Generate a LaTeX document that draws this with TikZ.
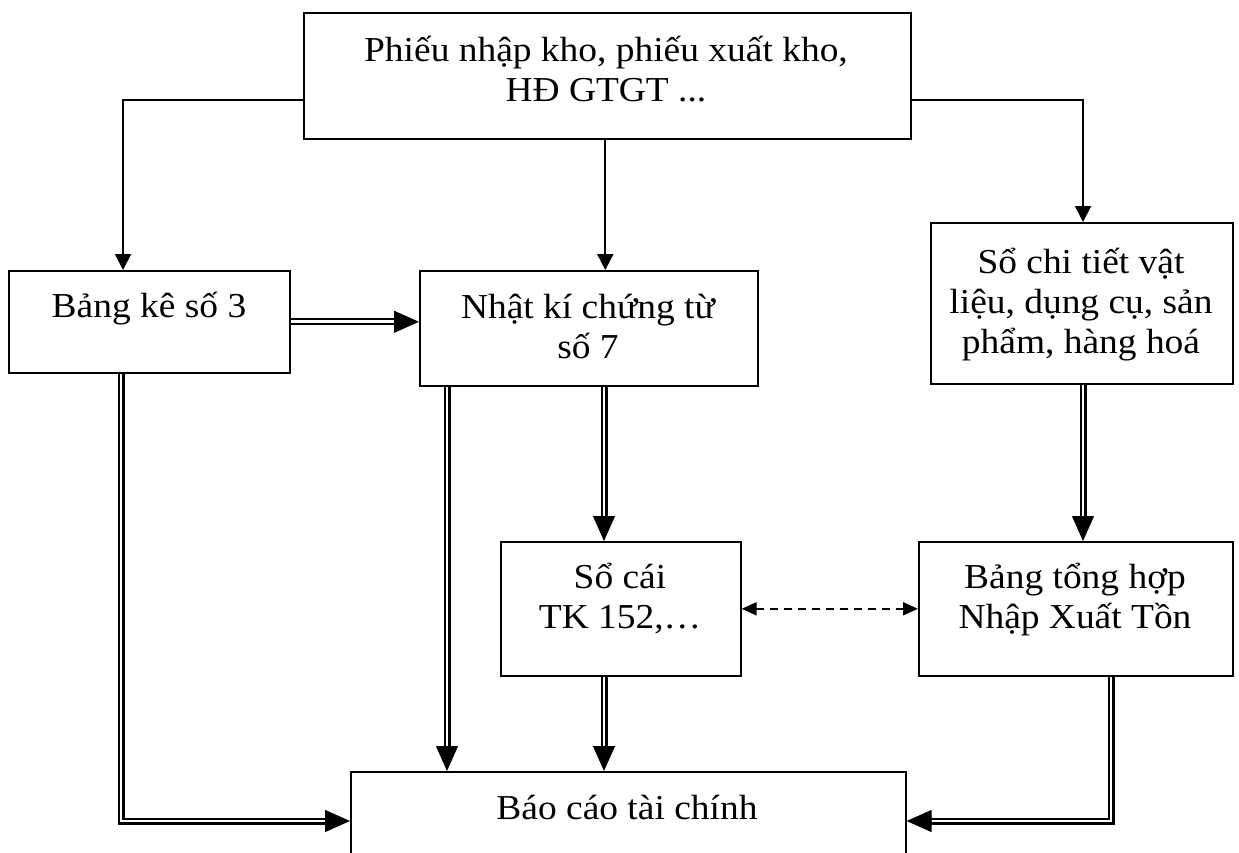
\documentclass[tikz,border=0pt]{standalone}
\usepackage{fontspec}
\setmainfont{Liberation Serif}[FakeStretch=1.07]
\usetikzlibrary{arrows.meta,calc}
\newcommand{\tallstrut}{\lineskiplimit=-100pt\relax\rule{0pt}{40pt}}
\tikzset{
  box/.style={draw, line width=1.6pt, inner sep=0pt, anchor=north west},
  txt/.style={inner sep=0pt, anchor=north, align=center,
    font=\fontsize{35}{40}\selectfont},
  sarrow/.style={line width=1.9pt, -{Triangle[length=16pt,width=16pt]}},
  dbl/.style={line width=2.1pt, double, double distance=2.8pt, shorten >=22pt},
  dtip/.style={line width=1pt, -{Triangle[length=25pt,width=22pt]}},
  dashar/.style={line width=1.9pt, dash pattern=on 8pt off 6pt,
    {Triangle[length=15pt,width=13pt]}-{Triangle[length=15pt,width=13pt]}}
}
\begin{document}
\begin{tikzpicture}[x=1pt,y=-1pt]
\useasboundingbox (0,0) rectangle (1239,852);
\clip (0,0) rectangle (1239,852);
\fill[white] (0,0) rectangle (1239,852);

% boxes
\node[box, minimum width=607pt, minimum height=126pt] (top) at (303,12) {};
\node[box, minimum width=281pt, minimum height=102pt] (bk) at (8,270) {};
\node[box, minimum width=338pt, minimum height=115pt] (nk) at (419,270) {};
\node[box, minimum width=302pt, minimum height=161pt] (sct) at (930,222) {};
\node[box, minimum width=240pt, minimum height=134pt] (sc) at (500,541) {};
\node[box, minimum width=314pt, minimum height=134pt] (bth) at (918,541) {};
\node[box, minimum width=555pt, minimum height=140pt] (bc) at (350,771) {};

% texts
\node[txt] (topt) at (606,21) {\tallstrut Phiếu nhập kho, phiếu xuất kho,\\HĐ GTGT ...};
\node[txt] (bkt) at (149,277) {\tallstrut Bảng kê số 3};
\node[txt] (nkt) at (588,278) {\tallstrut Nhật kí chứng từ\\số 7};
\node[txt] (sctt) at (1081,233) {\tallstrut Sổ chi tiết vật\\liệu, dụng cụ, sản\\phẩm, hàng hoá};
\node[txt] (sct2) at (620,548) {\tallstrut Sổ cái\\TK 152,…};
\node[txt] (btht) at (1075,548) {\tallstrut Bảng tổng hợp\\Nhập Xuất Tồn};
\node[txt] (bct) at (627,779) {\tallstrut Báo cáo tài chính};

% single arrows from top box
\draw[sarrow] ([yshift=-88pt]top.north west) -| ([xshift=115pt]bk.north west);
\draw[sarrow] ([yshift=-88pt]top.north east) -| ([xshift=153pt]sct.north west);
\draw[sarrow] ([xshift=-2pt]top.south) -- ([xshift=-2pt]top.south |- nk.north);

% double arrows
% bk -> nk
\draw[dbl] (bk.east) -- (nk.west |- bk.east);
\draw[dtip] ($(nk.west |- bk.east)+(-25,0)$) -- (nk.west |- bk.east);
% bk -> bc
\coordinate (bcL) at ([yshift=-50pt]bc.north west);
\draw[dbl] ([xshift=113pt]bk.south west) |- (bcL);
\draw[dtip] ($(bcL)+(-25,0)$) -- (bcL);
% nk -> bc
\coordinate (nkL) at ([xshift=28pt]nk.south west);
\draw[dbl] (nkL) -- (nkL |- bc.north);
\draw[dtip] ($(nkL |- bc.north)+(0,-25)$) -- (nkL |- bc.north);
% nk -> sc
\coordinate (scT) at ([xshift=104pt]sc.north west);
\draw[dbl] (scT |- nk.south) -- (scT);
\draw[dtip] ($(scT)+(0,-25)$) -- (scT);
% sc -> bc
\coordinate (scB) at ([xshift=104pt]sc.south west);
\draw[dbl] (scB) -- (scB |- bc.north);
\draw[dtip] ($(scB |- bc.north)+(0,-25)$) -- (scB |- bc.north);
% sct -> bth
\coordinate (bthT) at ([xshift=165pt]bth.north west);
\draw[dbl] (bthT |- sct.south) -- (bthT);
\draw[dtip] ($(bthT)+(0,-25)$) -- (bthT);
% bth -> bc
\coordinate (bcR) at ([yshift=-50pt]bc.north east);
\draw[dbl] ([xshift=193pt]bth.south west) |- (bcR);
\draw[dtip] ($(bcR)+(25,0)$) -- (bcR);

% dashed double-headed
\draw[dashar] (sc.east) -- (bth.west);
\end{tikzpicture}
\end{document}
